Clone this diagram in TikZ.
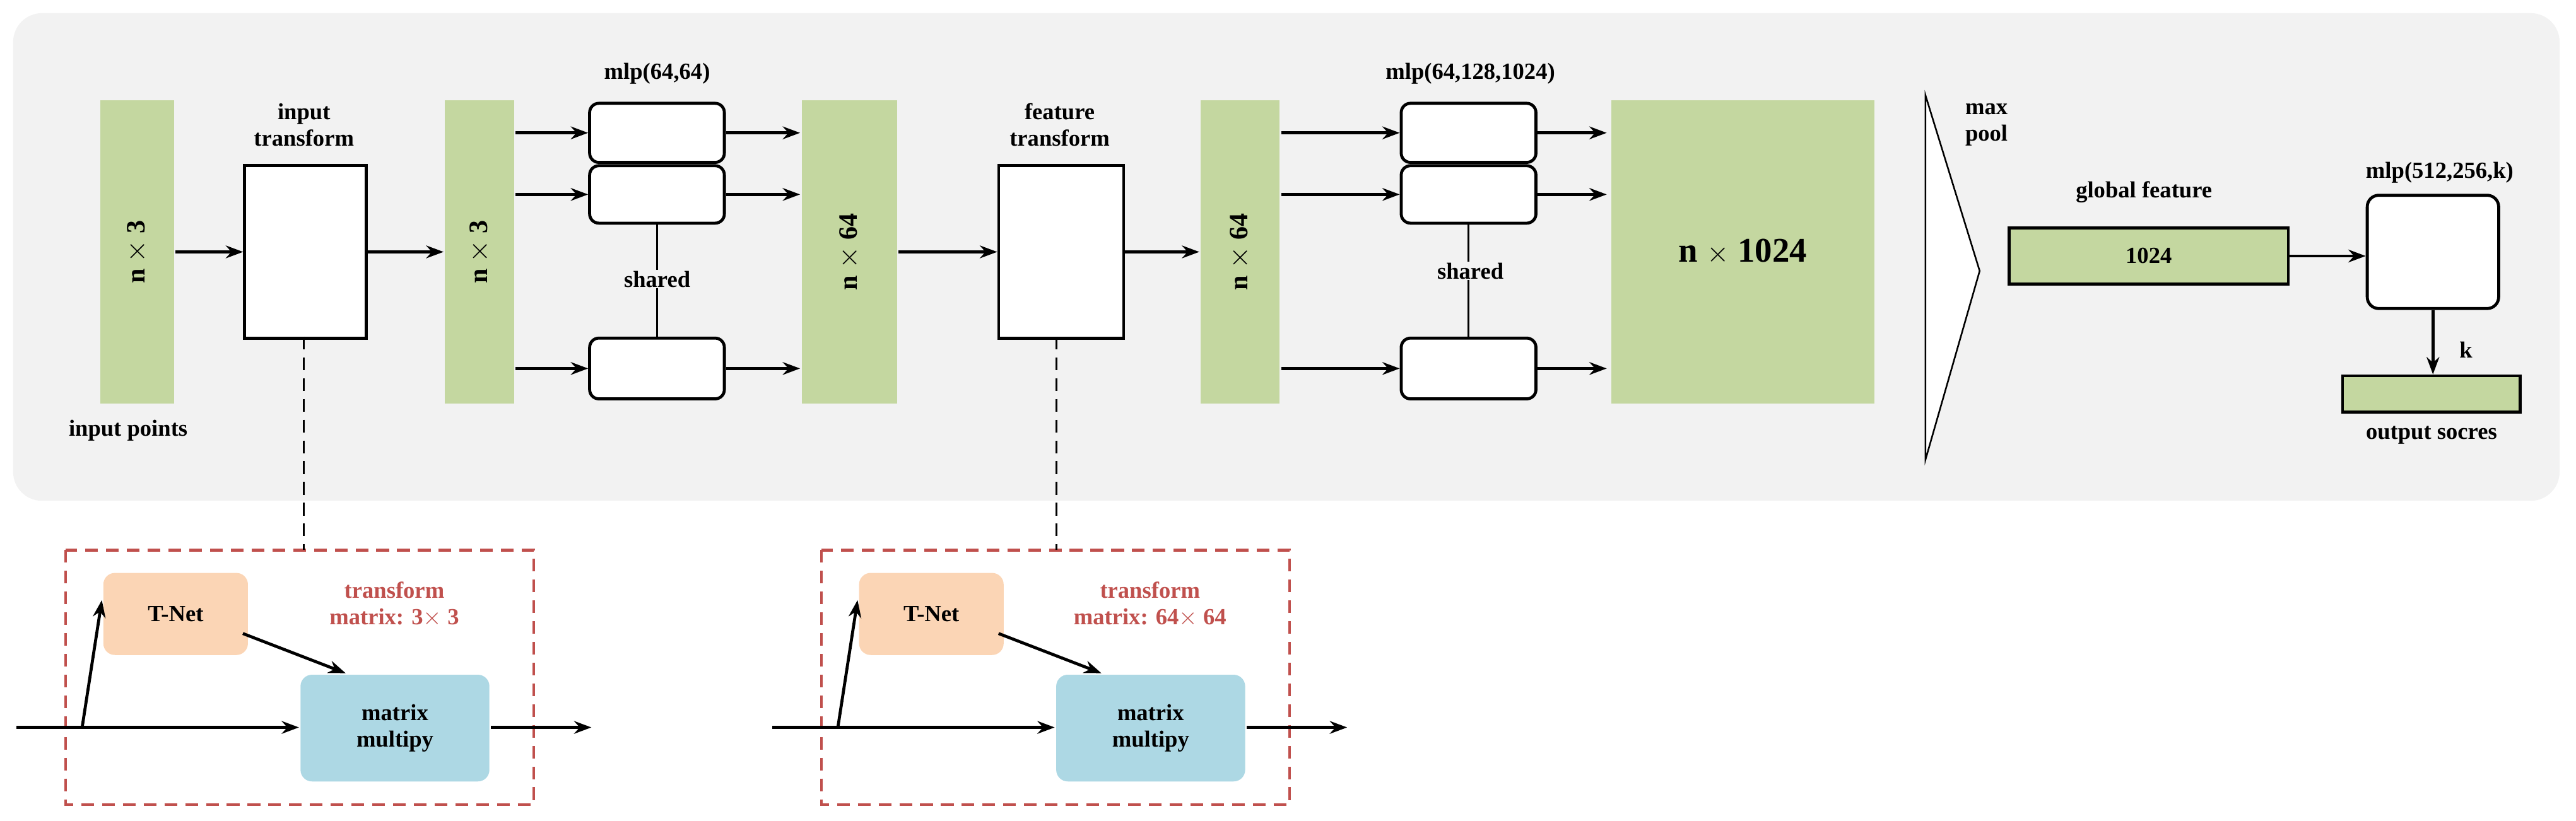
\documentclass[tikz,border=0pt]{standalone}
\usepackage{fontspec}
\setmainfont{Liberation Serif}
\usetikzlibrary{arrows.meta,positioning,calc}
\definecolor{featgreen}{RGB}{196,215,160}
\definecolor{bggray}{RGB}{242,242,242}
\definecolor{tnetorange}{RGB}{251,213,181}
\definecolor{matblue}{RGB}{173,216,228}
\definecolor{boxred}{RGB}{192,80,77}
\tikzset{>={Stealth[length=15pt,width=11pt]}}
\begin{document}
\begin{tikzpicture}[x=0.05cm,y=-0.05cm,line width=2.6pt,font=\bfseries\fontsize{20}{23}\selectfont]
  \tikzset{
    feat/.style={fill=featgreen,draw=none,anchor=north west,inner sep=0pt},
    blk/.style={draw,fill=white,anchor=north west,inner sep=0pt},
    mlp/.style={draw,fill=white,rounded corners=8pt,anchor=north west,inner sep=0pt,minimum width=4.1cm},
    tnet/.style={fill=tnetorange,rounded corners=10pt,anchor=north west,inner sep=0pt},
    mmul/.style={fill=matblue,rounded corners=10pt,anchor=north west,inner sep=0pt,align=center},
    redtxt/.style={text=boxred,align=center},
    dbox/.style={draw=boxred,dash pattern=on 11pt off 7pt,line width=2.4pt},
    barlab/.style={rotate=90,font=\bfseries\fontsize{23}{26}\selectfont}
  }
  \useasboundingbox (0,0) rectangle (1568,500);
  \fill[bggray,rounded corners=25pt] (8,8) rectangle (1558,305);

  % --- main pipeline ---
  \node[feat,minimum width=2.25cm,minimum height=9.25cm] (in) at (60,60) {};
  \node[barlab] at (in.center) {n $\times$ 3};
  \node at (78,262) {input points};
  \node[blk,minimum width=3.7cm,minimum height=5.25cm] (it) at (148,100) {};
  \node[align=center] at (185,76) {input\\transform};
  \node[feat,minimum width=2.1cm,minimum height=9.25cm] (f1) at (270,60) {};
  \node[barlab] at (f1.center) {n $\times$ 3};

  \node at (400,45) {mlp(64,64)};
  \foreach \i/\y/\h in {a/62/36,b/100/35,c/205/37}{
    \node[mlp,minimum height=\h*0.05cm] (m1\i) at (358,\y) {};
    \draw[->] (f1.east |- m1\i.west) -- (m1\i.west);
    \draw[->] (m1\i.east) -- (487,0 |- m1\i.east);
  }
  \draw[line width=1.4pt] (m1b.south) -- (m1c.north);
  \node[fill=bggray,inner sep=1pt] at (400,170) {shared};

  \node[feat,minimum width=2.9cm,minimum height=9.25cm] (f2) at (487,60) {};
  \node[barlab] at (f2.center) {n $\times$ 64};
  \node[blk,minimum width=3.8cm,minimum height=5.25cm] (ft) at (607,100) {};
  \node[align=center] at (645,76) {feature\\transform};
  \node[feat,minimum width=2.4cm,minimum height=9.25cm] (f3) at (730,60) {};
  \node[barlab] at (f3.center) {n $\times$ 64};

  \node at (895,45) {mlp(64,128,1024)};
  \foreach \i/\y/\h in {a/62/36,b/100/35,c/205/37}{
    \node[mlp,minimum height=\h*0.05cm] (m2\i) at (852,\y) {};
    \draw[->] (f3.east |- m2\i.west) -- (m2\i.west);
    \draw[->] (m2\i.east) -- (978,0 |- m2\i.east);
  }
  \draw[line width=1.4pt] (m2b.south) -- (m2c.north);
  \node[fill=bggray,inner sep=1pt] at (895,165) {shared};

  \node[feat,minimum width=8cm,minimum height=9.25cm] (f4) at (980,60) {};
  \node[font=\bfseries\fontsize{30}{34}\selectfont] at (f4.center) {n $\times$ 1024};

  \draw[line width=1.4pt,fill=white] (1172,58) -- (1205,165) -- (1172,280) -- cycle;
  \node[align=left,anchor=west] at (1193,76) {max\\pool};
  \node at (1305,117) {global feature};
  \node[draw,fill=featgreen,anchor=north west,inner sep=0pt,minimum width=8.5cm,minimum height=1.7cm] (gf) at (1222,138) {};
  \node at (gf.center) {1024};
  \node at (1485,105) {mlp(512,256,k)};
  \node[draw,fill=white,rounded corners=10pt,anchor=north west,inner sep=0pt,minimum width=4cm,minimum height=3.45cm] (m3) at (1440,118) {};
  \node[draw,fill=featgreen,anchor=north west,inner sep=0pt,minimum width=5.4cm,minimum height=1.1cm] (out) at (1425,228) {};
  \node at (1501,213) {k};
  \node at (1480,265) {output socres};

  \draw[->] (in.east |- it.west) -- (it.west);
  \draw[->] (it.east) -- (f1.west |- it.east);
  \draw[->] (f2.east |- ft.west) -- (ft.west);
  \draw[->] (ft.east) -- (f3.west |- ft.east);
  \draw[->] (gf.east) -- (m3.west |- gf.east);
  \draw[->] (m3.south) -- (m3.south |- out.north);

  % --- T-Net details ---
  \foreach \k/\dx/\xa/\ttxt in {1/0/185/3$\times$ 3, 2/460/643/64$\times$ 64}{
    \begin{scope}[xshift=\dx*0.05cm]
      \draw[dbox] (40,335) rectangle (325,490);
      \node[tnet,minimum width=4.4cm,minimum height=2.5cm] (tn\k) at (62,348) {T-Net};
      \node[mmul,minimum width=5.75cm,minimum height=3.25cm] (mm\k) at (182,410) {matrix\\multipy};
      \node[redtxt] at (240,368) {transform\\matrix: \ttxt};
      \coordinate (s\k) at (10,443);
      \coordinate (b\k) at (50,443);
      \coordinate (e\k) at (360,443);
    \end{scope}
    \draw[dash pattern=on 11pt off 7pt,line width=1.8pt] (\xa,205) -- (\xa,335);
    \draw[->] (s\k) -- (mm\k.west |- s\k);
    \draw[->] (mm\k.east |- s\k) -- (e\k);
    \draw[->] (b\k) -- ([yshift=12pt]tn\k.west);
    \draw[->] ([xshift=-0.2cm,yshift=0.7cm]tn\k.south east) -- ([xshift=-1.5cm]mm\k.north);
  }
\end{tikzpicture}
\end{document}
